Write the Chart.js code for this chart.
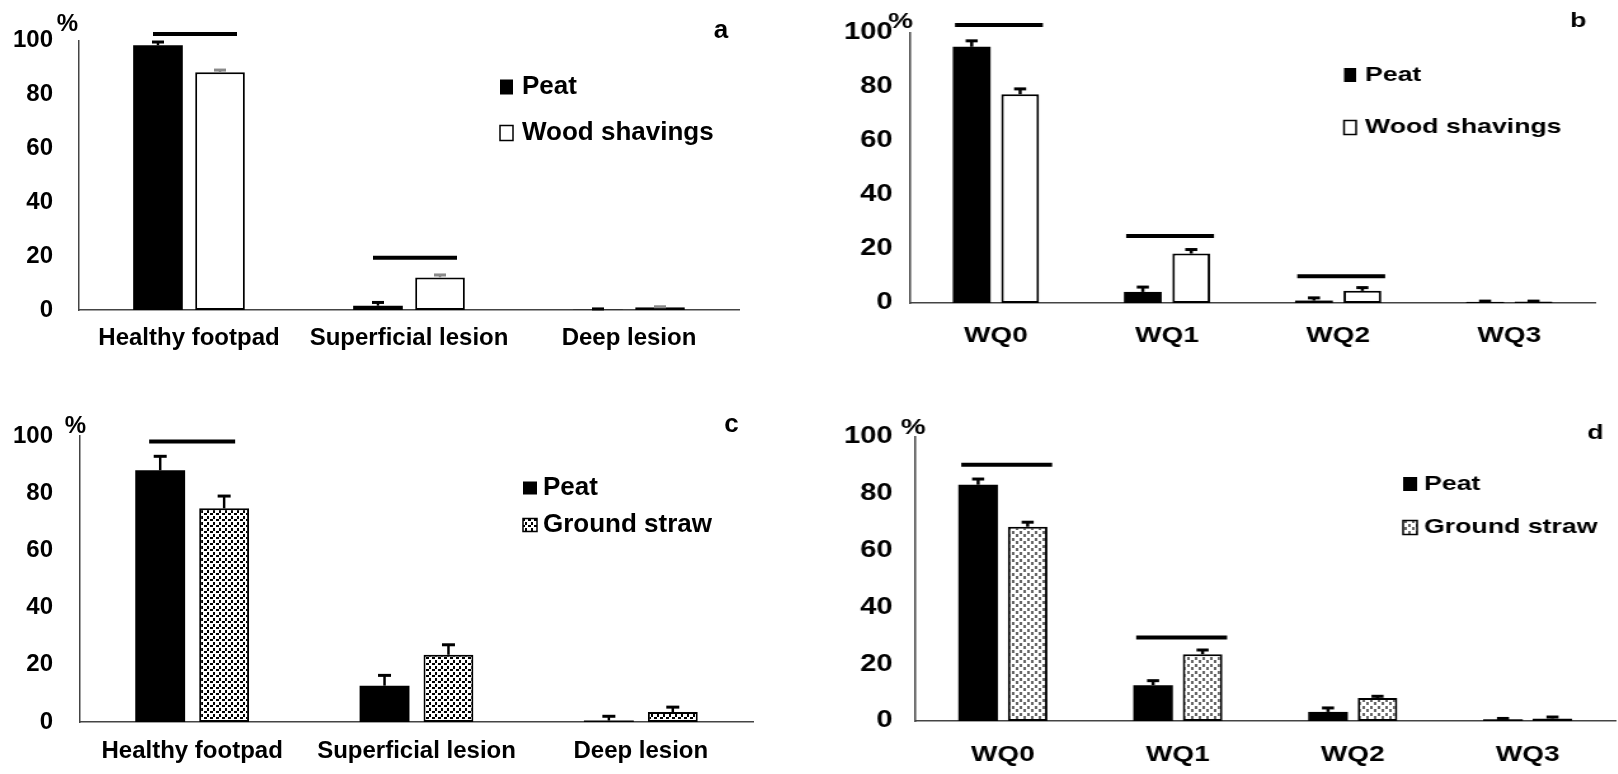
<!DOCTYPE html>
<html>
<head>
<meta charset="utf-8">
<script src="https://cdn.jsdelivr.net/npm/chart.js@4.4.0/dist/chart.umd.min.js"></script>
<style>
  html, body { margin: 0; padding: 0; background: #fff; }
  body { width: 1618px; height: 774px; position: relative; overflow: hidden; }
  .panel { position: absolute; height: 387px; }
  /* right-hand panels of the figure are stretched horizontally */
  .wide { width: 636px; transform: scaleX(1.27); transform-origin: 0 0; }
  .narrow { width: 809px; }
  #boxA { left: 0; top: 0; }
  #boxB { left: 810px; top: 0; }
  #boxC { left: 0; top: 387px; }
  #boxD { left: 810px; top: 387px; }
</style>
</head>
<body>
<div class="panel narrow" id="boxA"><canvas id="chartA"></canvas></div>
<div class="panel wide" id="boxB"><canvas id="chartB"></canvas></div>
<div class="panel narrow" id="boxC"><canvas id="chartC"></canvas></div>
<div class="panel wide" id="boxD"><canvas id="chartD"></canvas></div>
<script>
// categories and ticks
const lesionLabels = ["Healthy footpad", "Superficial lesion", "Deep lesion"];
const wqLabels = ["WQ0", "WQ1", "WQ2", "WQ3"];
const yTicks = [0, 20, 40, 60, 80, 100];

// a: footpad lesions, peat vs wood shavings (% and SE)
const peatA = [98.2, 1.6, 0.1];
const peatErrA = [1.2, 1.2, 0.3];
const woodA = [88.2, 12.1, 1.0];
const woodErrA = [0.8, 0.9, 0.2];
const sigA = [102.4, 19.4, null];

// b: water quality, peat vs wood shavings
const peatB = [94.9, 4.1, 0.9, 0.4];
const peatErrB = [2.2, 1.8, 1.0, 0.3];
const woodB = [77.3, 18.3, 4.5, 0.6];
const woodErrB = [2.0, 1.5, 1.2, 0.1];
const sigB = [103.0, 24.8, 9.9, null];

// c: footpad lesions, peat vs ground straw
const peatC = [88.0, 12.7, 0.5];
const peatErrC = [4.9, 3.6, 1.5];
const strawC = [74.7, 23.5, 3.5];
const strawErrC = [4.3, 3.5, 1.7];
const sigC = [98.1, null, null];

// d: water quality, peat vs ground straw
const peatD = [83.2, 12.6, 3.2, 0.6];
const peatErrD = [2.0, 1.6, 1.4, 0.3];
const strawD = [68.4, 23.5, 8.1, 0.9];
const strawErrD = [1.6, 1.5, 0.6, 0.5];
const sigD = [90.2, 29.4, null, null];

const family = "'Liberation Sans', Arial, sans-serif";
const axisColor = "#444";
Chart.defaults.font.family = family;
Chart.defaults.color = "#000";

function dotPattern(dotColor, w, h, dots) {
  const c = document.createElement("canvas");
  c.width = w;
  c.height = h;
  const g = c.getContext("2d");
  g.fillStyle = "#fff";
  g.fillRect(0, 0, w, h);
  g.fillStyle = dotColor;
  dots.forEach(([x, y, dw, dh]) => g.fillRect(x, y, dw, dh));
  return g.createPattern(c, "repeat");
}

const strawBlack = dotPattern("#000", 6, 6, [[0, 0, 3, 2], [3, 3, 2, 3]]);
const strawGrey = dotPattern("#666", 6, 7, [[0, 0, 2, 3], [3, 4, 2, 3]]);

function line(ctx, x1, y1, x2, y2) {
  ctx.beginPath();
  ctx.moveTo(x1, y1);
  ctx.lineTo(x2, y2);
  ctx.stroke();
}

function buildChart(canvasId, p) {
  const decor = {
    id: "decor",
    afterDraw(chart) {
      const ctx = chart.ctx;
      const xS = chart.scales.x;
      const yS = chart.scales.y;
      ctx.save();
      ctx.lineCap = "butt";

      // error bars (upper half only)
      chart.data.datasets.forEach((ds, i) => {
        const meta = chart.getDatasetMeta(i);
        ctx.strokeStyle = ds.errorColor;
        meta.data.forEach((bar, j) => {
          const y0 = yS.getPixelForValue(ds.data[j]);
          const y1 = yS.getPixelForValue(ds.data[j] + ds.errors[j]);
          ctx.lineWidth = 2.5;
          line(ctx, bar.x, y0, bar.x, y1);
          ctx.lineWidth = 3;
          line(ctx, bar.x - p.capW / 2, y1, bar.x + p.capW / 2, y1);
        });
      });

      // significance bars
      ctx.strokeStyle = "#000";
      ctx.lineWidth = 4;
      p.sig.forEach((v, j) => {
        if (v == null) return;
        const cx = xS.getPixelForValue(j) + p.sigOff;
        const y = yS.getPixelForValue(v);
        line(ctx, cx - p.sigHalf, y, cx + p.sigHalf, y);
      });

      // legend
      const L = p.legend;
      ctx.textBaseline = "middle";
      ctx.textAlign = "left";
      chart.data.datasets.forEach((ds, i) => {
        const cy = L.y[i];
        ctx.fillStyle = ds.backgroundColor;
        ctx.fillRect(L.x, cy - L.h / 2, L.w, L.h);
        if (ds.borderWidth) {
          ctx.lineWidth = 1.5;
          ctx.strokeStyle = "#000";
          ctx.strokeRect(L.x, cy - L.h / 2, L.w, L.h);
        }
        ctx.fillStyle = "#000";
        ctx.font = "bold " + L.font + "px " + family;
        ctx.fillText(ds.label, L.tx, cy);
      });

      // unit and panel letter
      ctx.fillStyle = "#000";
      ctx.font = "bold " + p.pct.font + "px " + family;
      ctx.textAlign = "right";
      ctx.fillText("%", p.pct.x, p.pct.y);
      ctx.font = "bold " + p.letter.font + "px " + family;
      ctx.textAlign = "center";
      ctx.textBaseline = "alphabetic";
      ctx.fillText(p.letter.text, p.letter.x, p.letter.y);
      ctx.restore();
    },
  };

  return new Chart(document.getElementById(canvasId), {
    type: "bar",
    data: {
      labels: p.labels,
      datasets: p.series.map((s) => ({
        label: s.label,
        data: s.data,
        errors: s.err,
        errorColor: s.errColor,
        backgroundColor: s.fill,
        borderColor: "#000",
        borderWidth: s.border,
        borderSkipped: false,
        categoryPercentage: p.catPct,
        barPercentage: p.barPct,
      })),
    },
    options: {
      responsive: true,
      maintainAspectRatio: false,
      animation: false,
      events: [],
      layout: { padding: { top: p.padTop, right: p.padRight, left: 0, bottom: 0 } },
      plugins: { legend: { display: false }, tooltip: { enabled: false } },
      scales: {
        x: {
          grid: { display: false, drawTicks: false },
          border: { display: true, color: axisColor, width: 1.5 },
          ticks: {
            color: "#000",
            font: { size: p.catFont, weight: "bold" },
            padding: p.xPad,
            autoSkip: false,
            maxRotation: 0,
          },
          afterFit: (s) => { s.height = p.xHeight; },
        },
        y: {
          min: 0,
          max: 100,
          afterBuildTicks: (s) => { s.ticks = yTicks.map((v) => ({ value: v })); },
          grid: { display: false, drawTicks: false },
          border: { display: true, color: axisColor, width: 1.5 },
          ticks: { color: "#000", font: { size: p.tickFont, weight: "bold" }, padding: p.yPad },
          afterFit: (s) => { s.width = p.yWidth; },
        },
      },
    },
    plugins: [decor],
  });
}

buildChart("chartA", {
  labels: lesionLabels,
  series: [
    { label: "Peat", data: peatA, err: peatErrA, fill: "#000", border: 0, errColor: "#000" },
    { label: "Wood shavings", data: woodA, err: woodErrA, fill: "#fff", border: 2, errColor: "#8a8a8a" },
  ],
  sig: sigA, sigHalf: 42, sigOff: 6, capW: 12,
  catPct: 0.564, barPct: 0.8,
  padTop: 37, padRight: 70, yWidth: 79, xHeight: 77,
  tickFont: 24, catFont: 24, yPad: 26, xPad: 14,
  legend: { x: 500, w: 13, h: 15, y: [87, 133], tx: 522, font: 26 },
  pct: { x: 78, y: 24, font: 24 },
  letter: { text: "a", x: 721, y: 38, font: 26 },
});

buildChart("chartB", {
  labels: wqLabels,
  series: [
    { label: "Peat", data: peatB, err: peatErrB, fill: "#000", border: 0, errColor: "#000" },
    { label: "Wood shavings", data: woodB, err: woodErrB, fill: "#fff", border: 2, errColor: "#000" },
  ],
  sig: sigB, sigHalf: 34.6, sigOff: 2.4, capW: 9.5,
  catPct: 0.566, barPct: 0.78,
  padTop: 33, padRight: 18, yWidth: 79, xHeight: 84,
  tickFont: 23, catFont: 22, yPad: 14, xPad: 20,
  legend: { x: 420.5, w: 9.5, h: 14, y: [75, 127.5], tx: 437, font: 21 },
  pct: { x: 81, y: 22, font: 22 },
  letter: { text: "b", x: 605, y: 27, font: 21 },
});

buildChart("chartC", {
  labels: lesionLabels,
  series: [
    { label: "Peat", data: peatC, err: peatErrC, fill: "#000", border: 0, errColor: "#000" },
    { label: "Ground straw", data: strawC, err: strawErrC, fill: strawBlack, border: 2, errColor: "#000" },
  ],
  sig: sigC, sigHalf: 43, sigOff: 0, capW: 13,
  catPct: 0.57, barPct: 0.78,
  padTop: 49, padRight: 56, yWidth: 80, xHeight: 52,
  tickFont: 24, catFont: 24, yPad: 27, xPad: 15,
  legend: { x: 523, w: 14, h: 13, y: [101, 138], tx: 543, font: 26 },
  pct: { x: 86, y: 39.5, font: 24 },
  letter: { text: "c", x: 731.5, y: 45, font: 26 },
});

buildChart("chartD", {
  labels: wqLabels,
  series: [
    { label: "Peat", data: peatD, err: peatErrD, fill: "#000", border: 0, errColor: "#000" },
    { label: "Ground straw", data: strawD, err: strawErrD, fill: strawGrey, border: 2, errColor: "#000" },
  ],
  sig: sigD, sigHalf: 35.8, sigOff: 3, capW: 9.5,
  catPct: 0.566, barPct: 0.8,
  padTop: 50, padRight: 2, yWidth: 83, xHeight: 53,
  tickFont: 23, catFont: 22, yPad: 18, xPad: 21,
  legend: { x: 467, w: 11, h: 14, y: [97, 140.5], tx: 483.5, font: 21 },
  pct: { x: 91, y: 41, font: 22 },
  letter: { text: "d", x: 618.5, y: 52, font: 21 },
});
</script>
</body>
</html>
